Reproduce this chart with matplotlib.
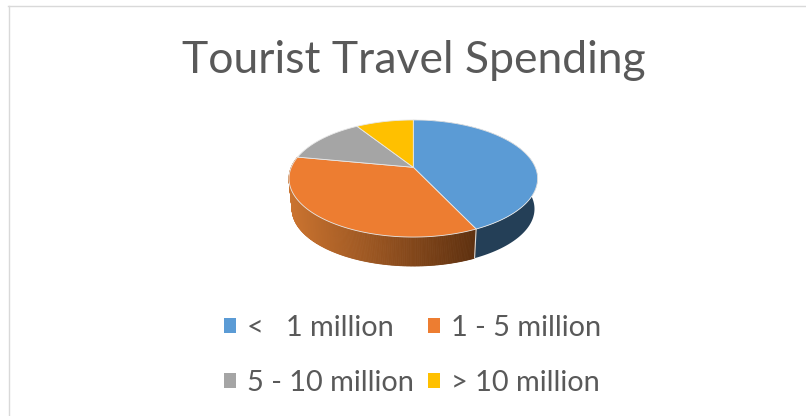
import numpy as np
import matplotlib
matplotlib.use("Agg")
import matplotlib.pyplot as plt
from matplotlib.patches import Patch
from matplotlib.path import Path
from matplotlib.transforms import Transform, Affine2D
from matplotlib.lines import Line2D

title = "Tourist Travel Spending"
categories = ["<   1 million", "1 - 5 million", "5 - 10 million", "> 10 million"]
shares = [43, 35, 13, 9]
colors = ["#5B9BD5", "#ED7D31", "#A5A5A5", "#FFC000"]

W, H = 806, 416
APEX = (413.3, 167.3)
A, B, K = 122.0, 56.4, 0.1915
DEPTH = 30.7
SHRINK = 0.975
TEXT = "#595959"


class TiltedDisk(Transform):
    input_dims = output_dims = 2
    has_inverse = False

    def transform_non_affine(self, values):
        v = np.asarray(values, dtype=float)
        d = 1 + K * v[:, 1]
        return np.column_stack([A * v[:, 0] / d, B * v[:, 1] / d])

    def transform_path_non_affine(self, path):
        # flatten the wedge's curves finely so the projection stays smooth
        scale = 2000.0
        polys = path.to_polygons(Affine2D().scale(scale), closed_only=True)
        verts = np.vstack(polys) / scale
        return Path(self.transform_non_affine(verts), closed=True)


plt.rcParams["font.family"] = ["Lato", "DejaVu Sans"]
fig = plt.figure(figsize=(W / 100, H / 100), dpi=100, facecolor="white")
ax = fig.add_axes([0, 0, 1, 1])

wedges, _ = ax.pie(shares, colors=colors, startangle=90, counterclock=False,
                   radius=1.0, wedgeprops=dict(edgecolor="#E8E8E8", linewidth=0.6))
ax.set_aspect("auto")
ax.set_xlim(-APEX[0], W - APEX[0])
ax.set_ylim(-(H - APEX[1]), APEX[1])
ax.axis("off")

tilt = TiltedDisk()
for w in wedges:
    w.set_transform(tilt + ax.transData)
    w.set_zorder(5)


def rim(theta):
    p = tilt.transform_non_affine(np.column_stack([np.cos(theta), np.sin(theta)]))
    q = p * SHRINK
    q[:, 1] -= DEPTH
    return p, q


edges = 90 - 3.6 * np.cumsum([0] + shares)
lo, hi = np.radians(edges[1]), np.radians(edges[0])
th = np.linspace(lo, hi, 120)
p, q = rim(th)
ax.fill(np.r_[p[:, 0], q[::-1, 0]], np.r_[p[:, 1], q[::-1, 1]],
        color="#243F57", lw=0, zorder=2)

lo, hi = np.radians(edges[2]), np.radians(edges[1])
th = np.linspace(lo, hi, 240)
p, q = rim(th)
light = np.array(matplotlib.colors.to_rgb("#CB7430"))
dark = np.array(matplotlib.colors.to_rgb("#5E300F"))
for i in range(len(th) - 1):
    t = (p[i, 0] - p[:, 0].min()) / (p[:, 0].max() - p[:, 0].min())
    c = light + (dark - light) * t
    ax.fill([p[i, 0], p[i + 1, 0], q[i + 1, 0], q[i, 0]],
            [p[i, 1], p[i + 1, 1], q[i + 1, 1], q[i, 1]],
            color=c, lw=0.6, zorder=3)
pe, qe = rim(np.radians(edges[1:2]))
ax.plot([pe[0, 0], qe[0, 0]], [pe[0, 1], qe[0, 1]], color="#D9D9D9", lw=0.8, zorder=4)

fig.text(414 / W, 1 - 60.5 / H, title, ha="center", va="center", fontsize=32, color=TEXT)

handles = [Patch(facecolor=c, edgecolor="none") for c in colors]
order = [0, 2, 1, 3]
leg = fig.legend([handles[i] for i in order], [categories[i] for i in order], ncols=2,
                 loc="center", bbox_to_anchor=(412.5 / W, 1 - 355.5 / H),
                 frameon=False, fontsize=20.8, labelcolor=TEXT,
                 handlelength=0.41, handleheight=0.41, handletextpad=0.38,
                 columnspacing=0.48, labelspacing=0.99, borderpad=0)

for xs, ys in [([8.7, 8.7], [416, 5.5]), ([8, 806], [5.5, 5.5])]:
    fig.add_artist(Line2D(np.array(xs) / W, 1 - np.array(ys) / H, color="#D9D9D9", lw=1.0))

fig.savefig("out.png", dpi=100, facecolor="white")
